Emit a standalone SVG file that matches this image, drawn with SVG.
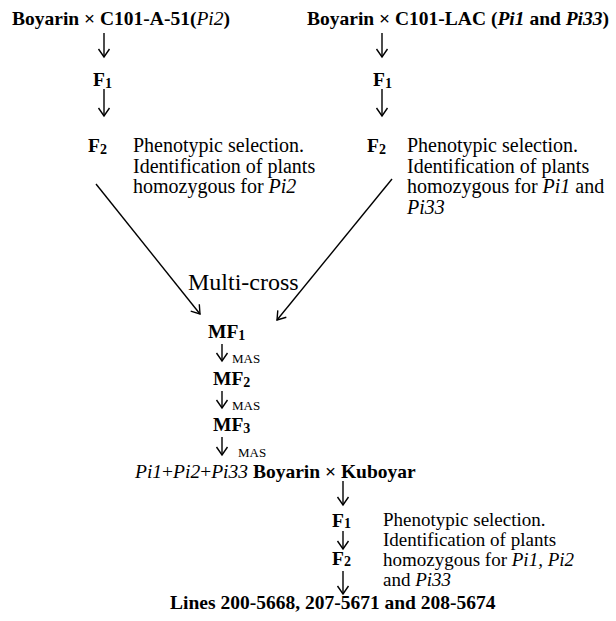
<svg xmlns="http://www.w3.org/2000/svg" width="616" height="621" viewBox="0 0 616 621">
<style>
text{font-family:"Liberation Serif","Times New Roman",serif;fill:#000}
.b{font-weight:bold;font-size:19.5px}
.r{font-size:20px}
.rs{font-size:19px}
.sub{font-size:14px}
.mas{font-size:13px}
.i{font-style:italic}
.n{font-weight:normal}
.ln{stroke:#000;stroke-width:1.4;fill:none}
</style>
<defs>
<marker id="ah" viewBox="-9 -7 11 14" refX="0" refY="0" markerWidth="11" markerHeight="14" markerUnits="userSpaceOnUse" orient="auto">
<path d="M-8,-5.5 L0,0 L-8,5.5" fill="none" stroke="#000" stroke-width="1.4"/>
</marker>
</defs>
<rect width="616" height="621" fill="#fff"/>
<g id="connectors">
<line class="ln" x1="104" y1="33" x2="104" y2="57" marker-end="url(#ah)"/>
<line class="ln" x1="104" y1="89" x2="104" y2="116" marker-end="url(#ah)"/>
<line class="ln" x1="382" y1="33" x2="382" y2="57" marker-end="url(#ah)"/>
<line class="ln" x1="382" y1="89" x2="382" y2="116" marker-end="url(#ah)"/>
<line class="ln" x1="96" y1="184" x2="200" y2="314" marker-end="url(#ah)"/>
<line class="ln" x1="392" y1="179" x2="277" y2="320" marker-end="url(#ah)"/>
<line class="ln" x1="222" y1="344" x2="222" y2="361" marker-end="url(#ah)"/>
<line class="ln" x1="222" y1="391" x2="222" y2="408" marker-end="url(#ah)"/>
<line class="ln" x1="222" y1="437" x2="222" y2="455" marker-end="url(#ah)"/>
<line class="ln" x1="343" y1="481" x2="343" y2="505" marker-end="url(#ah)"/>
<line class="ln" x1="343" y1="531" x2="343" y2="549" marker-end="url(#ah)"/>
<line class="ln" x1="343" y1="571" x2="343" y2="594" marker-end="url(#ah)"/>
</g>
<g id="cross1"><text class="b" x="12" y="25">Boyarin × C101-A-51(<tspan class="i n">Pi2</tspan>)</text></g>
<g id="cross2"><text class="b" x="307" y="25">Boyarin × C101-LAC (<tspan class="i">Pi1</tspan> and <tspan class="i">Pi33</tspan>)</text></g>
<g id="f1-left"><text class="b" x="93" y="86">F<tspan class="sub" dy="2">1</tspan></text></g>
<g id="f1-right"><text class="b" x="373" y="86">F<tspan class="sub" dy="2">1</tspan></text></g>
<g id="f2-left"><text class="b" x="88" y="152">F<tspan class="sub" dy="2">2</tspan></text>
<text class="r" x="133" y="152">Phenotypic selection.</text>
<text class="r" x="133" y="172.5">Identification of plants</text>
<text class="r" x="133" y="193">homozygous for <tspan class="i">Pi2</tspan></text></g>
<g id="f2-right"><text class="b" x="367" y="152">F<tspan class="sub" dy="2">2</tspan></text>
<text class="r" x="407" y="152">Phenotypic selection.</text>
<text class="r" x="407" y="172.5">Identification of plants</text>
<text class="r" x="407" y="193">homozygous for  <tspan class="i">Pi1</tspan> and</text>
<text class="r i" x="407" y="213.5">Pi33</text></g>
<g id="multicross"><text x="188" y="290" style="font-size:24px">Multi-cross</text></g>
<g id="mf1"><text class="b" x="208" y="338">MF<tspan class="sub" dy="2">1</tspan></text>
<text class="mas" x="232" y="363">MAS</text></g>
<g id="mf2"><text class="b" x="213" y="385">MF<tspan class="sub" dy="2">2</tspan></text>
<text class="mas" x="232" y="410">MAS</text></g>
<g id="mf3"><text class="b" x="213" y="431">MF<tspan class="sub" dy="2">3</tspan></text>
<text class="mas" x="238" y="457">MAS</text></g>
<g id="final-cross"><text class="b" x="135" y="478"><tspan class="i n">Pi1</tspan><tspan class="n">+</tspan><tspan class="i n">Pi2</tspan><tspan class="n">+</tspan><tspan class="i n">Pi33</tspan> Boyarin × Kuboyar</text></g>
<g id="f1-bottom"><text class="b" x="332" y="527">F<tspan class="sub" dy="1">1</tspan></text></g>
<g id="f2-bottom"><text class="b" x="332" y="565">F<tspan class="sub" dy="1">2</tspan></text>
<text class="rs" x="383" y="526">Phenotypic selection.</text>
<text class="rs" x="383" y="546">Identification of plants</text>
<text class="rs" x="383" y="566">homozygous for  <tspan class="i">Pi1, Pi2</tspan></text>
<text class="rs" x="383" y="586">and <tspan class="i">Pi33</tspan></text></g>
<g id="lines"><text class="b" x="170" y="609">Lines 200-5668, 207-5671 and 208-5674</text></g>
</svg>
